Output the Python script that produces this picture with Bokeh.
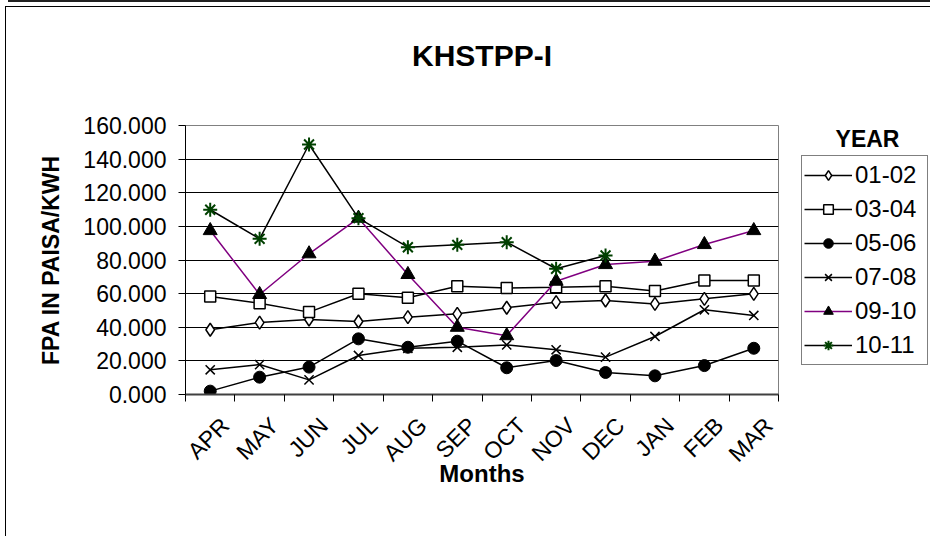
import math
from bokeh.plotting import figure
from bokeh.layouts import row
from bokeh.models import (Range1d, FixedTicker, NumeralTickFormatter, Legend,
                          LegendItem, Label, Title)
from bokeh.embed import file_html
from bokeh.resources import INLINE

# ---------------- data ----------------
months = ["APR", "MAY", "JUN", "JUL", "AUG", "SEP", "OCT", "NOV", "DEC", "JAN", "FEB", "MAR"]
years = ["01-02", "03-04", "05-06", "07-08", "09-10", "10-11"]
fpa_0102 = [38.5, 42.8, 44.6, 43.4, 46.0, 48.0, 51.6, 54.9, 55.9, 53.9, 56.9, 59.9]
fpa_0304 = [58.3, 54.3, 49.0, 59.9, 57.5, 64.4, 63.4, 63.8, 64.4, 61.5, 67.8, 67.8]
fpa_0506 = [2.0, 10.3, 16.3, 33.1, 28.1, 31.7, 15.9, 20.2, 13.1, 11.1, 17.2, 27.5]
fpa_0708 = [14.7, 17.8, 8.7, 23.2, 27.5, 28.1, 29.5, 26.6, 22.2, 34.5, 50.4, 47.0]
fpa_0910 = [97.5, 59.5, 83.7, 104.9, 71.4, 40.0, 35.0, 67.4, 77.3, 79.3, 89.2, 97.5]
fpa_1011 = [109.9, 92.6, 148.7, 104.9, 87.6, 89.0, 90.6, 74.8, 82.7]
y_ticks = [0, 20, 40, 60, 80, 100, 120, 140, 160]

series = [fpa_0102, fpa_0304, fpa_0506, fpa_0708, fpa_0910, fpa_1011]

FONT = "Liberation Sans"

# ---------------- main chart ----------------
p = figure(width=780, height=536, output_backend="svg", toolbar_location=None,
           title=None,
           x_range=Range1d(0, len(months)), y_range=Range1d(0, 160),
           min_border_left=185, min_border_right=2,
           min_border_top=125, min_border_bottom=142,
           background_fill_color="white", border_fill_color=None)
p.styles = {
    "background-color": "white",
    "background-image": "linear-gradient(#000,#000), linear-gradient(#000,#000), linear-gradient(#222,#222)",
    "background-size": "1px calc(100% - 6px), calc(100% - 5px) 1px, calc(100% - 8px) 2px",
    "background-position": "5px 6px, 5px 6px, 8px 0px",
    "background-repeat": "no-repeat",
}
p.outline_line_color = "#808080"
p.outline_line_width = 1

# blank spacer title next to the frame, then the real title above it
p.add_layout(Title(text=" ", text_font=FONT, text_font_size="30px", standoff=19), "above")
p.add_layout(Title(text="KHSTPP-I", align="center", text_font=FONT,
                   text_font_style="bold", text_font_size="30px",
                   text_color="black", standoff=0), "above")

# x axis: labels at category centres, ticks at category boundaries
centers = [i + 0.5 for i in range(len(months))]
bounds = [i for i in range(len(months) + 1)]
label_pos = [c + 0.3 for c in centers]
p.xaxis.ticker = FixedTicker(ticks=label_pos, minor_ticks=bounds)
p.xaxis.major_label_overrides = {c: m for c, m in zip(label_pos, months)}
p.xaxis.major_tick_out = 0
p.xaxis.major_tick_in = 0
p.xaxis.minor_tick_out = 7
p.xaxis.minor_tick_in = 0
p.xaxis.minor_tick_line_color = "black"
p.xaxis.axis_line_color = "#404040"
p.xaxis.axis_line_width = 2
p.xaxis.major_label_orientation = math.pi / 4
p.xaxis.major_label_text_font = FONT
p.xaxis.major_label_text_font_size = "23px"
p.xaxis.major_label_text_color = "black"
p.xaxis.major_label_standoff = 20
p.xaxis.axis_label = "Months"
p.xaxis.axis_label_text_font = FONT
p.xaxis.axis_label_text_font_style = "bold"
p.xaxis.axis_label_text_font_size = "24px"
p.xaxis.axis_label_text_color = "black"
p.xaxis.axis_label_standoff = -19
p.xgrid.visible = False

# y axis
p.yaxis.ticker = FixedTicker(ticks=y_ticks)
p.yaxis.formatter = NumeralTickFormatter(format="0.000")
p.yaxis.major_tick_out = 7
p.yaxis.major_tick_in = 0
p.yaxis.minor_tick_out = 0
p.yaxis.minor_tick_in = 0
p.yaxis.axis_line_color = "black"
p.yaxis.major_tick_line_color = "black"
p.yaxis.major_label_text_font = FONT
p.yaxis.major_label_text_font_size = "23px"
p.yaxis.major_label_text_color = "black"
p.yaxis.major_label_standoff = 12
p.yaxis.axis_label = "FPA IN PAISA/KWH"
p.yaxis.axis_label_text_font = FONT
p.yaxis.axis_label_text_font_style = "bold"
p.yaxis.axis_label_text_font_size = "23px"
p.yaxis.axis_label_text_color = "black"
p.yaxis.axis_label_standoff = 16
p.ygrid.ticker = FixedTicker(ticks=y_ticks[1:-1])
p.ygrid.grid_line_color = "black"
p.ygrid.grid_line_width = 1

styles = [
    dict(line="black", marker="diamond", size=13, fill="white", mline="black", mw=1.5),
    dict(line="black", marker="square", size=11, fill="white", mline="black", mw=1.5),
    dict(line="black", marker="circle", size=12, fill="black", mline="black", mw=1),
    dict(line="black", marker="x", size=13, fill="black", mline="black", mw=1.5),
    dict(line="#800080", marker="triangle", size=14, fill="black", mline="black", mw=1),
    dict(line="black", marker="asterisk", size=14, fill="#004000", mline="#004000", mw=2),
]

for name, vals, st in zip(years, series, styles):
    xs = centers[:len(vals)]
    p.line(xs, vals, line_color=st["line"], line_width=1.5)
    p.scatter(xs, vals, marker=st["marker"], size=st["size"],
              fill_color=st["fill"], line_color=st["mline"], line_width=st["mw"])

# ---------------- legend panel (frame aligned with the main chart frame) ----------------
# its ranges keep the series out of view; only the legend and its heading show
lp = figure(width=150, height=536, output_backend="svg", toolbar_location=None,
            x_range=Range1d(0, 1), y_range=Range1d(-1, 0),
            x_axis_type=None, y_axis_type=None, min_border=0,
            background_fill_color=None, border_fill_color=None)
lp.styles = {
    "background-color": "white",
    "background-image": "linear-gradient(#000,#000), linear-gradient(#222,#222)",
    "background-size": "100% 1px, 100% 2px",
    "background-position": "0px 6px, 0px 0px",
    "background-repeat": "no-repeat",
}
lp.outline_line_color = None
lp.xgrid.visible = False
lp.ygrid.visible = False

items = []
for name, vals, st in zip(years, series, styles):
    xs = centers[:len(vals)]
    r1 = lp.line(xs, vals, line_color=st["line"], line_width=1.5)
    r2 = lp.scatter(xs, vals, marker=st["marker"], size=st["size"],
                    fill_color=st["fill"], line_color=st["mline"], line_width=st["mw"])
    items.append(LegendItem(label=name, renderers=[r1, r2]))

legend = Legend(items=items, location=(21, 29), margin=0, padding=2,
                spacing=0, label_height=34, glyph_height=24, glyph_width=48,
                label_width=70, label_standoff=3, label_text_font=FONT,
                label_text_font_size="24px", label_text_baseline="middle",
                label_text_color="black",
                border_line_color="black", border_line_width=1,
                background_fill_color="white", background_fill_alpha=1)
lp.add_layout(legend, "center")

legend_title = Label(x=87, y=256, x_units="screen", y_units="screen", text="YEAR",
                     text_font=FONT, text_font_style="bold", text_font_size="23px",
                     text_align="center", text_baseline="middle", text_color="black")
lp.add_layout(legend_title)

layout = row(p, lp, spacing=0)
open("out.html", "w").write(file_html(layout, INLINE))
